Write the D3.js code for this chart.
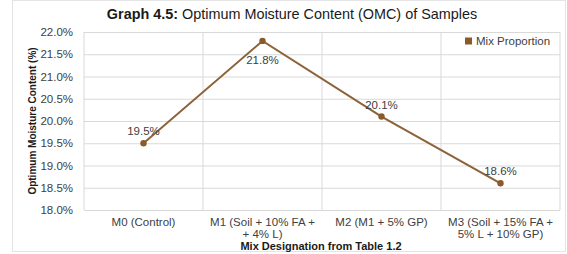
<!DOCTYPE html>
<html>
<head>
<meta charset="utf-8">
<script src="https://cdn.jsdelivr.net/npm/d3@7"></script>
<style>
  body { margin: 0; background: #fff; }
  svg { font-family: 'Liberation Sans', Arial, sans-serif; }
</style>
</head>
<body>
<svg id="chart" width="567" height="254"></svg>
<script>
const categories = [
  ['M0 (Control)'],
  ['M1 (Soil + 10% FA +', '+ 4% L)'],
  ['M2 (M1 + 5% GP)'],
  ['M3 (Soil + 15% FA +', '5% L + 10% GP)']
];
const omc = [19.5, 21.8, 20.1, 18.6];
const yTicks = [18.0, 18.5, 19.0, 19.5, 20.0, 20.5, 21.0, 21.5, 22.0];
const labelAbove = [true, false, true, true];

const margin = { top: 32, right: 7, bottom: 44, left: 84 },
  width = 567,
  height = 254;

const svg = d3.select('#chart');

// outer frame
svg
  .append('rect')
  .attr('x', 12.5)
  .attr('y', 0.5)
  .attr('width', width - 14)
  .attr('height', height - 3)
  .attr('fill', 'none')
  .attr('stroke', '#e4e4e4');

const x = d3
  .scaleBand()
  .domain(d3.range(categories.length))
  .range([margin.left, width - margin.right]);

const y = d3
  .scaleLinear()
  .domain([18, 22])
  .range([height - margin.bottom, margin.top]);

// horizontal gridlines + labels
svg
  .append('g')
  .attr('transform', `translate(${margin.left},0)`)
  .call(
    d3
      .axisLeft(y)
      .tickValues(yTicks)
      .tickSize(-(width - margin.left - margin.right))
      .tickPadding(11)
      .tickFormat(d => d.toFixed(1) + '%')
  )
  .call(g => g.select('.domain').remove())
  .call(g => g.selectAll('.tick line').attr('stroke', '#d9d9d9'))
  .call(g =>
    g
      .selectAll('.tick text')
      .attr('fill', '#404040')
      .style('font-size', '11.5px')
  );

// vertical gridlines (category separators)
svg
  .selectAll('.divider')
  .data(d3.range(categories.length + 1))
  .join('line')
  .attr('class', 'divider')
  .attr('x1', i => (i < categories.length ? x(i) : x.range()[1]))
  .attr('x2', i => (i < categories.length ? x(i) : x.range()[1]))
  .attr('y1', margin.top)
  .attr('y2', height - margin.bottom)
  .attr('stroke', '#d9d9d9');

// category labels
svg
  .selectAll('.catLabel')
  .data(categories)
  .join('text')
  .attr('class', 'catLabel')
  .attr('text-anchor', 'middle')
  .attr('fill', '#404040')
  .style('font-size', '11.5px')
  .each(function (d, i) {
    d3.select(this)
      .selectAll('tspan')
      .data(d)
      .join('tspan')
      .attr('x', x(i) + x.bandwidth() / 2)
      .attr('y', (t, j) => height - margin.bottom + 16 + j * 12)
      .text(t => t);
  });

// line
const line = d3
  .line()
  .x((d, i) => x(i) + x.bandwidth() / 2)
  .y(d => y(d));

svg
  .append('path')
  .datum(omc)
  .attr('fill', 'none')
  .attr('stroke', '#8c6239')
  .attr('stroke-width', 2)
  .attr('d', line);

svg
  .selectAll('.pt')
  .data(omc)
  .join('circle')
  .attr('class', 'pt')
  .attr('cx', (d, i) => x(i) + x.bandwidth() / 2)
  .attr('cy', d => y(d))
  .attr('r', 3.2)
  .attr('fill', '#8b5a2b');

// data labels
svg
  .selectAll('.valLabel')
  .data(omc)
  .join('text')
  .attr('class', 'valLabel')
  .attr('x', (d, i) => x(i) + x.bandwidth() / 2)
  .attr('y', (d, i) => (labelAbove[i] ? y(d) - 8 : y(d) + 23))
  .attr('text-anchor', 'middle')
  .attr('fill', '#404040')
  .style('font-size', '11.5px')
  .text(d => d.toFixed(1) + '%');

// title
const title = svg
  .append('text')
  .attr('x', 292)
  .attr('y', 19)
  .attr('text-anchor', 'middle')
  .attr('fill', '#1a1a1a')
  .style('font-size', '14.4px');
title.append('tspan').attr('font-weight', 'bold').text('Graph 4.5:');
title.append('tspan').text(' Optimum Moisture Content (OMC) of Samples');

// axis titles
svg
  .append('text')
  .attr('transform', `translate(36,${(margin.top + height - margin.bottom) / 2}) rotate(-90)`)
  .attr('text-anchor', 'middle')
  .attr('font-weight', 'bold')
  .attr('fill', '#1a1a1a')
  .style('font-size', '10px')
  .text('Optimum Moisture Content (%)');

svg
  .append('text')
  .attr('x', 321)
  .attr('y', 250)
  .attr('text-anchor', 'middle')
  .attr('font-weight', 'bold')
  .attr('fill', '#1a1a1a')
  .style('font-size', '11px')
  .text('Mix Designation from Table 1.2');

// legend
const legend = svg.append('g').attr('transform', 'translate(465,41)');
legend
  .append('rect')
  .attr('x', 0)
  .attr('y', -3.5)
  .attr('width', 7)
  .attr('height', 7)
  .attr('fill', '#8b5a2b');
legend
  .append('text')
  .attr('x', 11)
  .attr('y', 4)
  .attr('fill', '#404040')
  .style('font-size', '11.5px')
  .text('Mix Proportion');
</script>
</body>
</html>
